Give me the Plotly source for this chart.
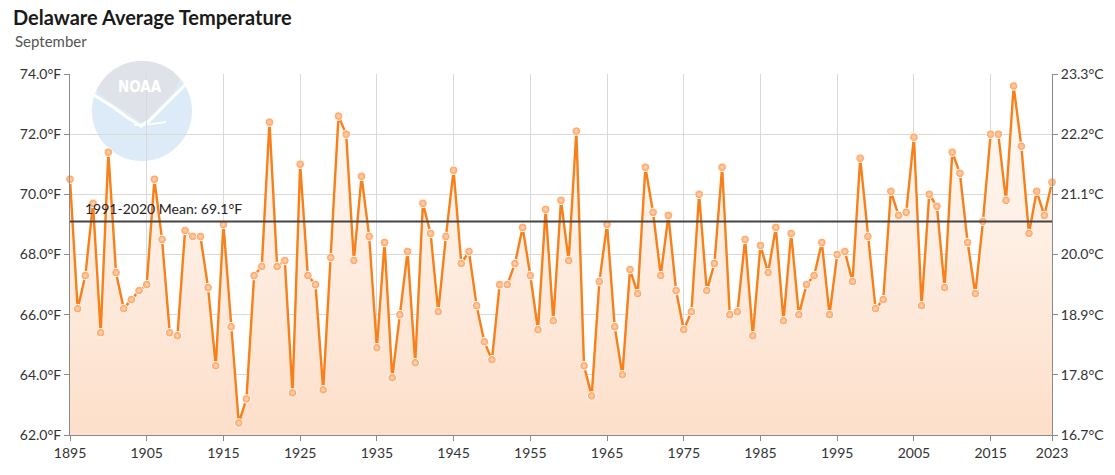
import math
import plotly.graph_objects as go

# ---------------- data ----------------
years = list(range(1895, 2024))
temps_f = [
    70.5, 66.2, 67.3, 69.7, 65.4,                          # 1895-1899
    71.4, 67.4, 66.2, 66.5, 66.8, 67.0, 70.5, 68.5, 65.4, 65.3,  # 1900s
    68.8, 68.6, 68.6, 66.9, 64.3, 69.0, 65.6, 62.4, 63.2, 67.3,  # 1910s
    67.6, 72.4, 67.6, 67.8, 63.4, 71.0, 67.3, 67.0, 63.5, 67.9,  # 1920s
    72.6, 72.0, 67.8, 70.6, 68.6, 64.9, 68.4, 63.9, 66.0, 68.1,  # 1930s
    64.4, 69.7, 68.7, 66.1, 68.6, 70.8, 67.7, 68.1, 66.3, 65.1,  # 1940s
    64.5, 67.0, 67.0, 67.7, 68.9, 67.3, 65.5, 69.5, 65.8, 69.8,  # 1950s
    67.8, 72.1, 64.3, 63.3, 67.1, 69.0, 65.6, 64.0, 67.5, 66.7,  # 1960s
    70.9, 69.4, 67.3, 69.3, 66.8, 65.5, 66.1, 70.0, 66.8, 67.7,  # 1970s
    70.9, 66.0, 66.1, 68.5, 65.3, 68.3, 67.4, 68.9, 65.8, 68.7,  # 1980s
    66.0, 67.0, 67.3, 68.4, 66.0, 68.0, 68.1, 67.1, 71.2, 68.6,  # 1990s
    66.2, 66.5, 70.1, 69.3, 69.4, 71.9, 66.3, 70.0, 69.6, 66.9,  # 2000s
    71.4, 70.7, 68.4, 66.7, 69.1, 72.0, 72.0, 69.8, 73.6, 71.6,  # 2010s
    68.7, 70.1, 69.3, 70.4,                                # 2020-2023
]
mean_f = 69.1
mean_label = "1991-2020 Mean: 69.1°F"
y_ticks_f = [62, 64, 66, 68, 70, 72, 74]
y_ticktext_f = [f"{v:.1f}°F" for v in y_ticks_f]
y_ticktext_c = [f"{(v - 32) * 5 / 9:.1f}°C" for v in y_ticks_f]
x_ticks = [1895, 1905, 1915, 1925, 1935, 1945, 1955, 1965, 1975, 1985, 1995, 2005, 2015, 2023]
x_ticktext = [str(v) for v in x_ticks]

# ---------------- layout geometry ----------------
W, H = 1115, 475
ML, MR, MT, MB = 70, 63, 74, 40
PW, PH = W - ML - MR, H - MT - MB


def px2paper(px, py):
    return (px - ML) / PW, (H - MB - py) / PH


FONT = "Lato"
TXT = "#333333"

fig = go.Figure()

fig.add_trace(go.Scatter(
    x=years, y=temps_f, mode="lines+markers",
    line=dict(color="#f7801a", width=2.4),
    marker=dict(size=8.5, color="#ff9a50",
                gradient=dict(type="radial", color="#ffd9bd"),
                line=dict(color="white", width=1)),
    fill="tozeroy",
    fillgradient=dict(type="vertical", start=62, stop=74,
                      colorscale=[[0, "#fddfca"], [1, "#fffbf8"]]),
    cliponaxis=False,
    hoverinfo="x+y",
    showlegend=False,
))
# invisible trace to carry the right-hand (Celsius) axis
fig.add_trace(go.Scatter(
    x=years, y=temps_f, yaxis="y2", mode="lines",
    line=dict(width=0), opacity=0, hoverinfo="skip", showlegend=False,
))

# ---------------- NOAA-like logo ----------------
cx, cy, r = 142, 111, 50
x0, y0 = px2paper(cx - r, cy + r)
x1, y1 = px2paper(cx + r, cy - r)
shapes = [dict(type="circle", xref="paper", yref="paper", x0=x0, y0=y0, x1=x1, y1=y1,
               fillcolor="#dcebf7", line=dict(width=0), layer="below")]


def pth(points, close=True):
    s = ""
    for i, (px, py) in enumerate(points):
        u, v = px2paper(px, py)
        s += ("M" if i == 0 else "L") + f"{u:.5f},{v:.5f} "
    return s + ("Z" if close else "")


# gray cap: arc from left over the top to right, then the gull-shaped lower edge back
cap = []
a_start, a_end = 155.0, 40.0
for k in range(0, 41):
    a = math.radians(a_start - k * (a_start - a_end) / 40)
    cap.append((cx + r * math.cos(a), cy - r * math.sin(a)))
cap += [(174, 92), (160, 106), (148, 118), (141, 123), (130, 114), (114, 104), (100, 94)]
shapes.append(dict(type="path", xref="paper", yref="paper", path=pth(cap),
                   fillcolor="#dfe2e9", line=dict(width=0), layer="below"))
gull = [(94, 95), (113, 107), (128, 118), (141, 126), (149, 121), (161, 109), (175, 95), (190, 80)]
shapes.append(dict(type="path", xref="paper", yref="paper", path=pth(gull, close=False),
                   line=dict(color="white", width=3), layer="below"))
tail = [(134, 125), (152, 124), (166, 122)]
shapes.append(dict(type="path", xref="paper", yref="paper", path=pth(tail, close=False),
                   line=dict(color="white", width=2), layer="below"))

# mean line
shapes.append(dict(type="line", xref="paper", yref="y", x0=0, x1=1, y0=mean_f, y1=mean_f,
                   line=dict(color="#444444", width=2), layer="above"))

ax_n, ay_n = px2paper(140, 87)
lx, _ = px2paper(83, 0)
annotations = [
    dict(text="<b>NOAA</b>", xref="paper", yref="paper", x=ax_n, y=ay_n,
         xanchor="center", yanchor="middle", showarrow=False,
         font=dict(family="DejaVu Sans Condensed, DejaVu Sans", size=15, color="white")),
    dict(text=mean_label, xref="paper", yref="y", x=lx, y=mean_f, xanchor="left",
         yanchor="bottom", yshift=2, showarrow=False,
         font=dict(family=FONT, size=14, color="#222222")),
]
sx, sy = px2paper(13, 41)
annotations.append(dict(text="September", xref="paper", yref="paper", x=sx, y=sy,
                        xanchor="left", yanchor="middle", showarrow=False,
                        font=dict(family=FONT, size=15, color="#555555")))

axis_common = dict(showline=True, linecolor="#8a8a8a", linewidth=1,
                   ticks="outside", ticklen=5, tickcolor="#8a8a8a",
                   tickfont=dict(family=FONT, size=14, color=TXT))

fig.update_layout(
    width=W, height=H,
    margin=dict(l=ML, r=MR, t=MT, b=MB, pad=0),
    paper_bgcolor="white", plot_bgcolor="white",
    title=dict(text="<b>Delaware Average Temperature</b>", x=13 / W, xanchor="left",
               y=1 - 18 / H, yanchor="middle", xref="container", yref="container",
               font=dict(family=FONT, size=20, color="#1a1a1a")),
    xaxis=dict(range=[1895, 2023], tickvals=x_ticks, ticktext=x_ticktext,
               showgrid=True, gridcolor="#d9d9d9", zeroline=False, **axis_common),
    yaxis=dict(range=[62, 74], tickvals=y_ticks_f, ticktext=y_ticktext_f,
               showgrid=True, gridcolor="#d9d9d9", zeroline=False, **axis_common),
    yaxis2=dict(range=[62, 74], tickvals=y_ticks_f, ticktext=y_ticktext_c,
                overlaying="y", side="right", showgrid=False, zeroline=False, **axis_common),
    shapes=shapes,
    annotations=annotations,
    font=dict(family=FONT),
)

fig.write_html("out.html", config={"displayModeBar": False},
               post_script="document.body.style.margin='0';")
